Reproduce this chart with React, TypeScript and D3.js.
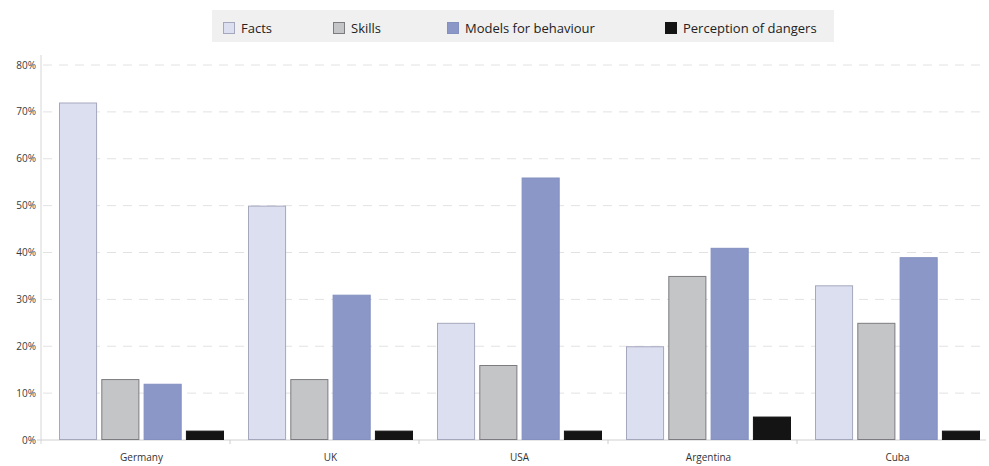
import React, { useEffect, useRef } from 'react';
import * as d3 from 'd3';

const countries = ['Germany', 'UK', 'USA', 'Argentina', 'Cuba'];
const series = ['Facts', 'Skills', 'Models for behaviour', 'Perception of dangers'];

const facts = [72, 50, 25, 20, 33];
const skills = [13, 13, 16, 35, 25];
const models = [12, 31, 56, 41, 39];
const dangers = [2, 2, 2, 5, 2];

const yTicks = [0, 10, 20, 30, 40, 50, 60, 70, 80];

const fills = ['#dcdff0', '#c4c5c7', '#8b97c7', '#141414'];
const strokes = ['#a5a8bd', '#7c7c80', '#8390c0', '#141414'];
const legendX = [223, 333, 447, 665];

const W = 989;
const H = 466;

const App: React.FC = () => {
  const svgRef = useRef<SVGSVGElement>(null);

  useEffect(() => {
    if (!svgRef.current) return;
    const svg = d3.select(svgRef.current);
    svg.selectAll('*').remove();

    const left = 41;
    const right = 986;
    const top = 65;
    const bottom = 440;

    const values = [facts, skills, models, dangers];

    const x0 = d3.scaleBand<string>().domain(countries).range([left, right]);
    const x1 = d3.scaleBand<string>().domain(series).range([18, 183]).paddingInner(0.1);
    const y = d3.scaleLinear().domain([0, 80]).range([bottom, top]);

    const font = '"Open Sans", "DejaVu Sans", sans-serif';

    // grid lines
    svg.append('g')
      .selectAll('line')
      .data(yTicks.filter(t => t > 0))
      .join('line')
      .attr('x1', left + 2).attr('x2', right)
      .attr('y1', d => y(d)).attr('y2', d => y(d))
      .attr('stroke', '#e2e2e2')
      .attr('stroke-width', 1)
      .attr('stroke-dasharray', '9,7');

    // y axis line
    svg.append('line')
      .attr('x1', left).attr('x2', left)
      .attr('y1', top - 10).attr('y2', bottom + 4)
      .attr('stroke', '#d6d6d6');

    // baseline
    svg.append('line')
      .attr('x1', left - 4).attr('x2', right)
      .attr('y1', bottom).attr('y2', bottom)
      .attr('stroke', '#d0d0d0');

    // group separator ticks
    svg.append('g')
      .selectAll('line')
      .data(countries.slice(1))
      .join('line')
      .attr('x1', d => x0(d)!).attr('x2', d => x0(d)!)
      .attr('y1', bottom).attr('y2', bottom + 4)
      .attr('stroke', '#cccccc');

    // y labels
    svg.append('g')
      .selectAll('text')
      .data(yTicks)
      .join('text')
      .attr('x', 36)
      .attr('y', d => y(d))
      .attr('dy', '0.35em')
      .attr('text-anchor', 'end')
      .attr('font-family', font)
      .attr('font-size', 10)
      .attr('fill', '#3a3a3a')
      .text(d => `${d}%`);

    // bars
    countries.forEach((c, ci) => {
      const g = svg.append('g').attr('transform', `translate(${x0(c)},0)`);
      series.forEach((s, si) => {
        const v = values[si][ci];
        g.append('rect')
          .attr('x', x1(s)! + 0.5)
          .attr('y', y(v) + 0.5)
          .attr('width', x1.bandwidth() - 1)
          .attr('height', Math.max(0, bottom - y(v) - 1))
          .attr('fill', fills[si])
          .attr('stroke', strokes[si])
          .attr('stroke-width', 1);
      });
      svg.append('text')
        .attr('x', x0(c)! + (18 + 183) / 2)
        .attr('y', 461)
        .attr('text-anchor', 'middle')
        .attr('font-family', font)
        .attr('font-size', 10)
        .attr('fill', '#333')
        .text(c);
    });

    // legend
    svg.append('rect')
      .attr('x', 212).attr('y', 10)
      .attr('width', 622).attr('height', 32)
      .attr('fill', '#f0f0f0');

    series.forEach((s, si) => {
      svg.append('rect')
        .attr('x', legendX[si] + 0.5).attr('y', 22.5)
        .attr('width', 11).attr('height', 11)
        .attr('fill', fills[si])
        .attr('stroke', strokes[si]);
      svg.append('text')
        .attr('x', legendX[si] + 18)
        .attr('y', 28)
        .attr('dy', '0.35em')
        .attr('font-family', font)
        .attr('font-size', 13)
        .attr('fill', '#222')
        .text(s);
    });
  }, []);

  return (
    <div style={{ position: 'fixed', left: 0, top: 0, width: W, height: H, background: '#fff' }}>
      <svg ref={svgRef} width={W} height={H} style={{ display: 'block' }} />
    </div>
  );
};

export default App;
